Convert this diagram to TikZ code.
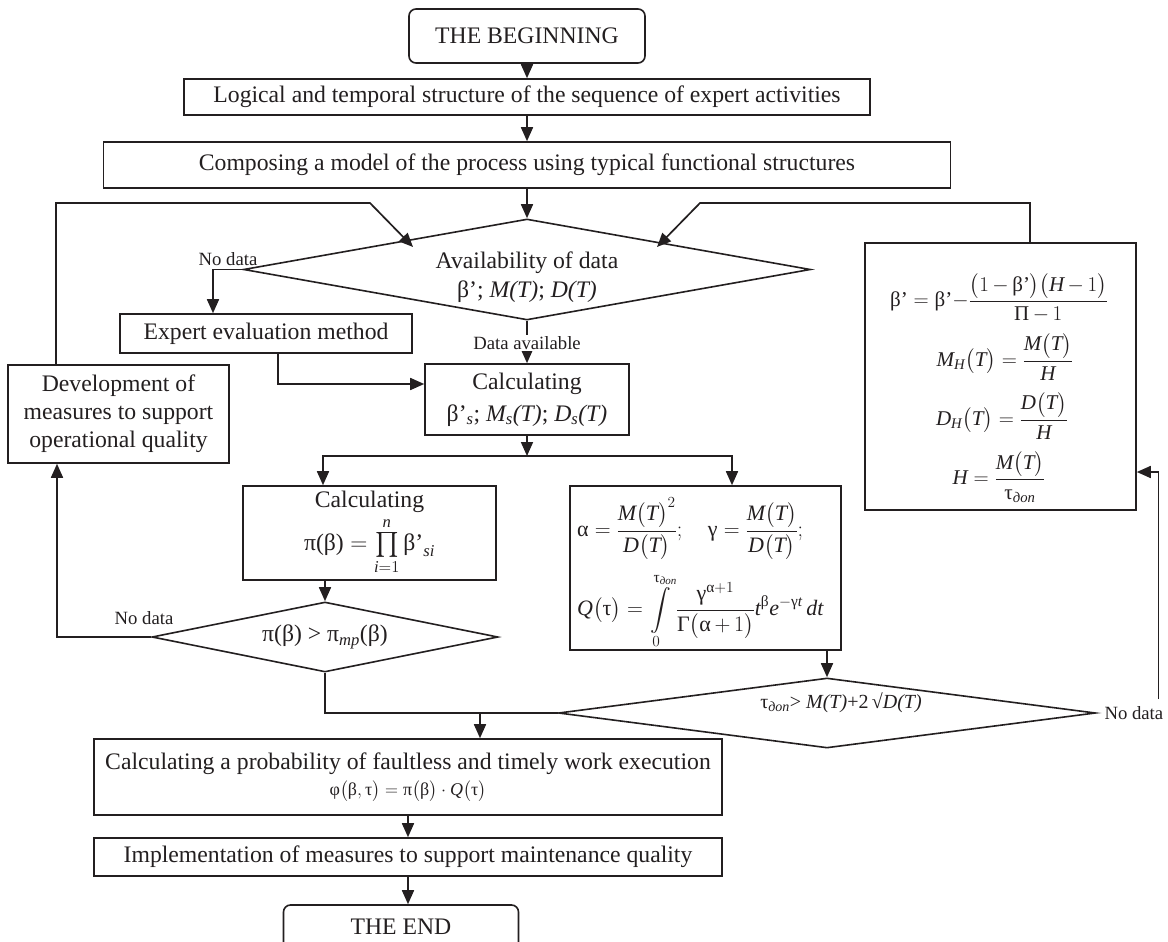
\RequirePackage{fix-cm}
\documentclass[tikz,border=0pt]{standalone}
\usepackage{amsmath}
\usepackage{fontspec}
\setmainfont{Liberation Serif}
\usetikzlibrary{shapes.geometric,arrows.meta,calc}
\definecolor{ink}{HTML}{231F20}
\newcommand{\gk}[1]{\text{\upshape #1}}
\newcommand{\mi}[1]{\text{\itshape #1}}
\newcommand{\bigfs}{\fontsize{23.7}{28}\selectfont}
\newcommand{\lblfs}{\fontsize{18.7}{22}\selectfont}
\newcommand{\frmfs}{\fontsize{21}{25}\selectfont}
\tikzset{
  box/.style={draw=ink, line width=1.6pt, fill=white, inner sep=0pt, align=center, font=\bigfs, text=ink},
  term/.style={box, rounded corners=7pt},
  dia/.style={diamond, draw=ink, line width=1.6pt, fill=white, inner sep=0pt, align=center, font=\bigfs, text=ink},
  txt/.style={inner sep=0pt, align=center, font=\bigfs, text=ink},
  frm/.style={inner sep=0pt, font=\frmfs, text=ink},
  lbl/.style={font=\lblfs, text=ink, inner sep=1pt},
  conn/.style={draw=ink, line width=1.7pt},
  arr/.style={conn, -{Triangle[length=14pt,width=12pt]}}
}
\begin{document}
\begin{tikzpicture}[x=1pt,y=-1pt]
\useasboundingbox (0,0) rectangle (1168,942);
\clip (0,0) rectangle (1168,942);
\fill[white] (0,0) rectangle (1168,942);

% boxes
\node[term, minimum width=236pt, minimum height=54pt] (begin) at (527,36) {THE BEGINNING};
\node[box, minimum width=686pt, minimum height=36pt] (logic) at (527,97) {Logical and temporal structure of the sequence of expert activities};
\node[box, minimum width=847pt, minimum height=46pt] (compose) at (527,165) {Composing a model of the process using typical functional structures};
\node[dia, minimum width=567pt, minimum height=101pt, aspect=5.6] (avail) at (527,269.5) {};
\node[txt] (availtxt) at (527,277) {Availability of data\\[1pt] β'; \textit{M(T)}; \textit{D(T)}};
\node[box, minimum width=292pt, minimum height=39pt] (expert) at (266,333.5) {Expert evaluation method};
\node[box, minimum width=204pt, minimum height=71pt] (calc1) at (527,399.5) {Calculating\\[4pt] β'\textsubscript{\itshape s}; \textit{M\textsubscript{s}(T)}; \textit{D\textsubscript{s}(T)}};
\node[box, minimum width=221pt, minimum height=98pt] (dev) at (118.5,414) {Development of\\ measures to support\\ operational quality};

\node[box, minimum width=271pt, minimum height=267pt] (formR) at (1000.5,376.5) {};
\node[frm] (fr1) at (999,298) {$\gk{β'}=\gk{β'}{-}\dfrac{\bigl(1\,{-}\,\gk{β'}\bigr)\bigl(\mi{H}\,{-}\,1\bigr)}{\gk{Π}\,{-}\,1}$};
\node[frm] (fr2) at (1005,357) {$\mi{M}_{\mi{H}}\bigl(\mi{T}\bigr)=\dfrac{\mi{M}\bigl(\mi{T}\bigr)}{\mi{H}}$};
\node[frm] (fr3) at (1002,416) {$\mi{D}_{\mi{H}}\bigl(\mi{T}\bigr)=\dfrac{\mi{D}\bigl(\mi{T}\bigr)}{\mi{H}}$};
\node[frm] (fr4) at (999,477) {$\mi{H}=\dfrac{\mi{M}\bigl(\mi{T}\bigr)}{\gk{τ}_{\mi{доп}}}$};

\node[box, minimum width=253pt, minimum height=94pt] (calcpi) at (369.5,533) {Calculating\\[3pt]
$\gk{π(β)}=\prod\limits_{\mi{i}=1}^{\mi{n}}\gk{β'}_{\mi{si}}$};

\node[box, minimum width=271pt, minimum height=164pt] (formQ) at (705.5,568) {};
\node[frm, anchor=west, font=\fontsize{22}{26}\selectfont] (fq1) at (577,529) {$\gk{α}=\dfrac{\mi{M}\bigl(\mi{T}\bigr)^{2}}{\mi{D}\bigl(\mi{T}\bigr)};\quad\gk{γ}=\dfrac{\mi{M}\bigl(\mi{T}\bigr)}{\mi{D}\bigl(\mi{T}\bigr)};$};
\node[frm, anchor=west, font=\fontsize{22}{26}\selectfont] (fq2) at (577,611) {$\mi{Q}\bigl(\gk{τ}\bigr)=\displaystyle\int\limits_{0}^{\gk{τ}_{\mi{доп}}}\dfrac{\gk{γ}^{\gk{α}+1}}{\gk{Γ}\bigl(\gk{α}\,{+}\,1\bigr)}\mi{t}^{\gk{β}}\mi{e}^{-\gk{γ}\mi{t}}\,\mi{dt}$};

\node[dia, minimum width=346pt, minimum height=70pt, aspect=4.9] (pid) at (325,637) {π(β) > π\textsubscript{\itshape mp}(β)};
\node[dia, minimum width=537pt, minimum height=70pt, aspect=7.7] (taud) at (827,713) {};
\node[txt, font=\fontsize{20}{24}\selectfont] (taudtxt) at (841,703) {τ\textsubscript{\itshape доп}> \textit{M(T)}+2\,√\textit{D(T)}};
\node[box, minimum width=628pt, minimum height=76pt] (prob) at (408,777) {Calculating a probability of faultless and timely work execution\\[-2pt]
{\fontsize{18}{21}\selectfont $\gk{φ}\bigl(\gk{β},\gk{τ}\bigr)=\gk{π}\bigl(\gk{β}\bigr)\cdot\mi{Q}\bigl(\gk{τ}\bigr)$}};
\node[box, minimum width=628pt, minimum height=38pt] (impl) at (408,857) {Implementation of measures to support maintenance quality};
\node[term, minimum width=235pt, minimum height=44pt] (end) at (401,927) {THE END};

% labels
\node[lbl] (nd1) at (228,259) {No data};
\node[lbl] (nd2) at (144,618) {No data};
\node[lbl, anchor=west, xshift=7pt] (nd3) at (taud.east) {No data};

% coordinates for feedback paths
\coordinate (fbL) at (370,203);
\coordinate (inL) at (413,247);
\coordinate (fbR) at (700,203);
\coordinate (inR) at (657,247);
\coordinate (split) at (527,456);
\coordinate (merge) at (480,713);

% connectors
\draw[arr] (begin) -- (logic);
\draw[arr] (logic) -- (compose);
\draw[arr] (compose) -- (avail);
\draw[arr] (avail.west) -| ([xshift=-53pt]expert.north);
\draw[arr] (avail.south) -- (calc1.north);
\node[lbl, fill=white] (da) at (527,343) {Data available};
\draw[arr] ([xshift=12pt]expert.south) |- ([yshift=15.5pt]calc1.west);
\draw[arr] (calc1.south) -- (split);
\draw[arr] (split) -| ([xshift=-46.5pt]calcpi.north);
\draw[arr] (split) -| ([xshift=26.5pt]formQ.north);
\draw[arr] (pid.north |- calcpi.south) -- (pid.north);
\draw[arr] (pid.west) -| ([xshift=-61.5pt]dev.south);
\draw[arr] ([xshift=-62.5pt]dev.north) |- (fbL) -- (inL);
\draw[arr] ([xshift=29.5pt]formR.north) |- (fbR) -- (inR);
\draw[arr] (taud.north |- formQ.south) -- (taud.north);
\draw[conn] (pid.south) |- (taud.west);
\draw[arr] (merge) -- (merge |- prob.north);
\draw[arr] (prob) -- (impl);
\draw[arr] (impl.south) -- (impl.south |- end.north);
\draw[arr] ([xshift=-6pt,yshift=6pt]nd3.north east) |- ([yshift=-95.5pt]formR.east);
\end{tikzpicture}
\end{document}
